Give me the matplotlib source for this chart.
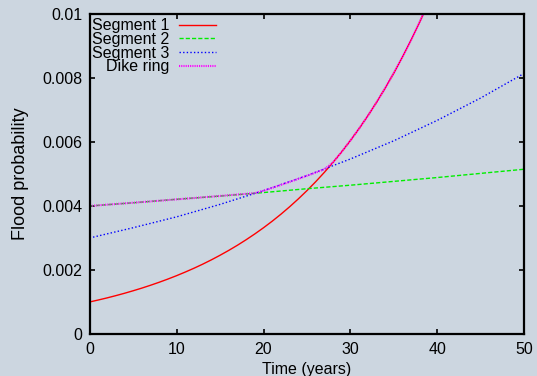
import matplotlib
matplotlib.use("Agg")
import matplotlib.pyplot as plt
from matplotlib.ticker import FixedLocator, FixedFormatter

plt.rcParams["font.family"] = ["Liberation Sans", "DejaVu Sans"]
plt.rcParams["font.size"] = 11.5
plt.rcParams["lines.scale_dashes"] = False

# values (probability vs. time in years)
years_fine = list(range(0, 40))
segment1 = [0.001000, 0.001062, 0.001127, 0.001197, 0.001271, 0.001350,
            0.001433, 0.001522, 0.001616, 0.001716, 0.001822, 0.001935,
            0.002054, 0.002181, 0.002316, 0.002460, 0.002612, 0.002773,
            0.002945, 0.003127, 0.003320, 0.003525, 0.003743, 0.003975,
            0.004221, 0.004482, 0.004759, 0.005053, 0.005366, 0.005697,
            0.006050, 0.006424, 0.006821, 0.007243, 0.007691, 0.008166,
            0.008671, 0.009207, 0.009777, 0.010381]
dike_ring = [0.004000, 0.004020, 0.004041, 0.004061, 0.004081, 0.004102,
             0.004123, 0.004143, 0.004164, 0.004185, 0.004207, 0.004228,
             0.004249, 0.004271, 0.004292, 0.004314, 0.004336, 0.004358,
             0.004380, 0.004402, 0.004475, 0.004566, 0.004658, 0.004752,
             0.004848, 0.004946, 0.005046, 0.005148, 0.005366, 0.005697,
             0.006050, 0.006424, 0.006821, 0.007243, 0.007691, 0.008166,
             0.008671, 0.009207, 0.009777, 0.010381]

years = [0, 5, 10, 15, 20, 25, 30, 35, 40, 45, 50]
segment2 = [0.00400, 0.00410, 0.00421, 0.00431, 0.00442, 0.00454, 0.00465,
            0.00477, 0.00489, 0.00502, 0.00515]
segment3 = [0.00300, 0.00332, 0.00366, 0.00405, 0.00448, 0.00495, 0.00547,
            0.00604, 0.00668, 0.00738, 0.00815]

xticks = [0, 10, 20, 30, 40, 50]
yticks = [0, 0.002, 0.004, 0.006, 0.008, 0.01]
ytick_labels = ["0", "0.002", "0.004", "0.006", "0.008", "0.01"]

bg = "#ccd6e0"
fig = plt.figure(figsize=(5.37, 3.76), dpi=100, facecolor=bg)
ax = fig.add_axes([0.1667, 0.1117, 0.81, 0.8511], facecolor=bg)

ax.plot(years_fine, segment1, color="#ff0000", lw=1.0, label="Segment 1")
ax.plot(years, segment2, color="#00ee00", lw=1.0, dashes=(3, 1.5),
        label="Segment 2")
ax.plot(years, segment3, color="#0000ff", lw=1.0, dashes=(1, 1.6),
        label="Segment 3")
ax.plot(years_fine, dike_ring, color="#ff00ff", lw=1.5,
        dashes=(0.8, 0.8), label="Dike ring")

ax.set_xlim(0, 50)
ax.set_ylim(0, 0.01)
ax.xaxis.set_major_locator(FixedLocator(xticks))
ax.yaxis.set_major_locator(FixedLocator(yticks))
ax.yaxis.set_major_formatter(FixedFormatter(ytick_labels))
ax.tick_params(direction="in", length=3.5, width=1.2, top=True, right=True,
               colors="black")
ax.tick_params(axis="y", pad=5)
ax.tick_params(axis="x", pad=6)

for s in ax.spines.values():
    s.set_linewidth(1.6)

ax.set_xlabel("Time (years)", labelpad=3)
ax.set_ylabel("Flood probability", fontsize=13, labelpad=10)

ax.legend(loc="upper left", bbox_to_anchor=(0.006, 0.987), frameon=False,
          markerfirst=False, borderpad=0, borderaxespad=0,
          handlelength=2.3, handletextpad=0.6, labelspacing=-0.08)

fig.savefig("out.png", dpi=100, facecolor=bg)
